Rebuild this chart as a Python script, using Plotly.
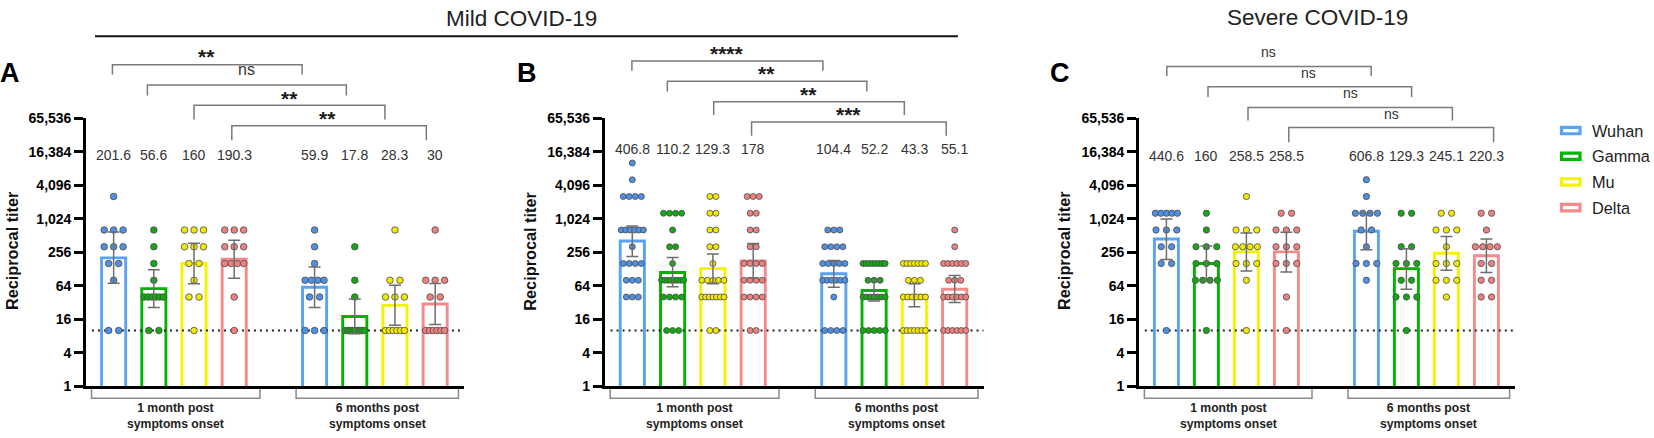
import numpy as np
import plotly.graph_objects as go

W, H = 1654, 438
FONT = "Liberation Sans, Arial, sans-serif"

variants = ["Wuhan", "Gamma", "Mu", "Delta"]
bar_colors = ["#5aa2f2", "#00b400", "#f4f400", "#f58a8a"]
dot_colors = ["#4d90e4", "#14a814", "#f2e800", "#ee8080"]
group_labels = ["1 month post<br>symptoms onset", "6 months post<br>symptoms onset"]
headers = ["Mild COVID-19", "Severe COVID-19"]
panel_letters = ["A", "B", "C"]
ytick_vals = [1, 4, 16, 64, 256, 1024, 4096, 16384, 65536]
ytick_text = ["1", "4", "16", "64", "256", "1,024", "4,096", "16,384", "65,536"]
detection_limit = 10

# ---- panel A (mild), order Wuhan, Gamma, Mu, Delta
a_1m = [
    [2560, 640, 640, 640, 320, 320, 320, 160, 160, 80, 10, 10],
    [640, 320, 160, 80, 40, 40, 40, 40, 40, 40, 10, 10],
    [640, 640, 640, 320, 320, 320, 160, 160, 80, 40, 40, 10],
    [640, 640, 640, 320, 320, 320, 160, 160, 160, 160, 40, 10],
]
a_6m = [
    [640, 320, 160, 80, 80, 80, 80, 40, 40, 10, 10, 10],
    [320, 80, 40, 10, 10, 10, 10, 10, 10, 10, 10, 10],
    [640, 80, 80, 40, 40, 40, 10, 10, 10, 10, 10, 10],
    [640, 80, 80, 80, 40, 40, 10, 10, 10, 10, 10, 10],
]
a_gmt = [201.6, 56.6, 160, 190.3, 59.9, 17.8, 28.3, 30]
a_ci_low = [71, 26, 69, 87, 26, 8.7, 12.4, 12.8]
a_ci_high = [590, 124, 370, 420, 138, 37, 65, 70]
a_sig = ["**", "ns", "**", "**"]

# ---- panel B (mild)
b_1m = [
    [10240, 5120, 2560, 2560, 2560, 2560, 640, 640, 640, 640, 640, 640,
     320, 160, 160, 160, 160, 80, 80, 80, 40, 40, 40],
    [1280, 1280, 1280, 1280, 640, 320, 320, 160, 80, 80, 80, 80, 80, 80,
     80, 80, 40, 40, 40, 40, 10, 10, 10],
    [2560, 2560, 1280, 1280, 640, 640, 320, 320, 160, 80, 80, 80, 80, 80,
     40, 40, 40, 40, 40, 40, 40, 10, 10],
    [2560, 2560, 2560, 1280, 1280, 640, 640, 320, 320, 160, 160, 160, 160,
     80, 80, 80, 80, 40, 40, 40, 40, 10, 10],
]
b_6m = [
    [640, 640, 640, 320, 320, 320, 320, 160, 160, 160, 160, 160, 80, 80,
     80, 80, 80, 80, 40, 10, 10, 10, 10],
    [160, 160, 160, 160, 160, 160, 160, 160, 80, 80, 80, 40, 40, 40, 40,
     40, 40, 40, 10, 10, 10, 10, 10],
    [160, 160, 160, 160, 160, 160, 160, 80, 80, 80, 40, 40, 40, 40, 40,
     40, 10, 10, 10, 10, 10, 10, 10],
    [640, 320, 160, 160, 160, 160, 160, 160, 80, 80, 80, 40, 40, 40, 40,
     40, 40, 10, 10, 10, 10, 10, 10],
]
b_gmt = [406.8, 110.2, 129.3, 178, 104.4, 52.2, 43.3, 55.1]
b_ci_low = [214, 61, 69.5, 88, 60, 34, 26.7, 32]
b_ci_high = [755, 206, 238, 366, 182, 80, 69.5, 97]
b_sig = ["****", "**", "**", "***"]

# ---- panel C (severe)
c_1m = [
    [1280, 1280, 1280, 1280, 1280, 640, 640, 640, 320, 320, 160, 160, 10],
    [1280, 640, 320, 320, 320, 160, 160, 160, 80, 80, 80, 80, 10],
    [2560, 640, 640, 640, 320, 320, 320, 320, 160, 160, 160, 80, 10],
    [1280, 1280, 640, 640, 640, 320, 320, 320, 160, 160, 160, 40, 10],
]
c_6m = [
    [5120, 2560, 1280, 1280, 1280, 1280, 640, 640, 320, 160, 160, 160, 80],
    [1280, 1280, 320, 320, 160, 160, 160, 80, 80, 40, 40, 40, 10],
    [1280, 1280, 640, 640, 640, 320, 160, 160, 160, 80, 80, 80, 40],
    [1280, 1280, 640, 320, 320, 320, 320, 160, 160, 80, 80, 40, 40],
]
c_gmt = [440.6, 160, 258.5, 258.5, 606.8, 129.3, 245.1, 220.3]
c_ci_low = [189, 77, 117, 112, 284, 55, 121, 110]
c_ci_high = [1010, 330, 565, 585, 1290, 295, 488, 442]
c_sig = ["ns", "ns", "ns", "ns"]

# ---- layout geometry (pixels)
XR = [-0.68, 8.72]
slots = [0, 1, 2, 3, 5, 6, 7, 8]
dom_px = [(86.3, 464.1), (604.9, 983.7), (1139.2, 1515.2)]
Y_TOP, Y_BOT = 114.3, 392.5


def py(p):
    return 1 - p / H


def px(i, slot):
    d0, d1 = dom_px[i]
    return (d0 + (slot - XR[0]) / (XR[1] - XR[0]) * (d1 - d0)) / W


def swarm(values, center, smax, wmax):
    counts = {}
    for v in values:
        counts[v] = counts.get(v, 0) + 1
    seen = {}
    xs = []
    for v in values:
        n = counts[v]
        k = seen.get(v, 0)
        seen[v] = k + 1
        s = 0 if n == 1 else min(smax, wmax / (n - 1))
        xs.append(center + (k - (n - 1) / 2) * s)
    return xs


panels = [
    dict(d1=a_1m, d6=a_6m, gmt=a_gmt, lo=a_ci_low, hi=a_ci_high, sig=a_sig,
         size=6.6, smax=0.25, wmax=0.47, lab_y=152.2,
         br=[(-0.03, 4.69), (0.84, 5.79), (2.0, 6.75), (2.94, 7.78)],
         br_top=[59, 80, 101, 122.3], br_bot=[69, 90.7, 115.7, 137.3],
         sig_x=[2.32, 3.31, 4.37, 5.33], sig_y=[46.3, 65, 89, 110.5], ns_size=16),
    dict(d1=b_1m, d6=b_6m, gmt=b_gmt, lo=b_ci_low, hi=b_ci_high, sig=b_sig,
         size=6, smax=0.15, wmax=0.55, lab_y=146.8,
         br=[(-0.01, 4.73), (0.87, 5.82), (2.02, 6.75), (2.96, 7.79)],
         br_top=[55, 76, 97.3, 118.3], br_bot=[65, 86.7, 111, 132.7],
         sig_x=[2.34, 3.32, 4.38, 5.36], sig_y=[42.5, 64, 85, 106.5], ns_size=16),
    dict(d1=c_1m, d6=c_6m, gmt=c_gmt, lo=c_ci_low, hi=c_ci_high, sig=c_sig,
         size=6.3, smax=0.26, wmax=0.55, lab_y=153.3,
         br=[(0.01, 5.12), (1.04, 6.13), (2.04, 7.15), (3.06, 8.18)],
         br_top=[60.7, 81.7, 103.3, 124], br_bot=[70.7, 92.3, 116.7, 139.3],
         sig_x=[2.55, 3.56, 4.59, 5.62], sig_y=[47.3, 69, 90, 111], ns_size=14),
]

fig = go.Figure()
shapes = []
annotations = []

for i, p in enumerate(panels):
    sx = "" if i == 0 else str(i + 1)
    xa, ya = "x" + sx, "y" + sx

    # bars (geometric means)
    for v in range(4):
        fig.add_trace(go.Bar(
            x=[slots[v], slots[v + 4]], y=[p["gmt"][v], p["gmt"][v + 4]],
            width=0.6, xaxis=xa, yaxis=ya,
            marker=dict(color="white", line=dict(color=bar_colors[v], width=2.9)),
            hoverinfo="skip"))

    # limit of detection
    fig.add_trace(go.Scatter(
        x=[-0.54, XR[1]], y=[detection_limit, detection_limit], mode="lines",
        line=dict(color="#222", width=2, dash="2px,4px"),
        xaxis=xa, yaxis=ya, hoverinfo="skip"))

    # individual titers
    for v in range(4):
        xs = swarm(p["d1"][v], slots[v], p["smax"], p["wmax"]) + \
            swarm(p["d6"][v], slots[v + 4], p["smax"], p["wmax"])
        ys = p["d1"][v] + p["d6"][v]
        fig.add_trace(go.Scatter(
            x=xs, y=ys, mode="markers", xaxis=xa, yaxis=ya,
            marker=dict(size=p["size"], color=dot_colors[v],
                        line=dict(color="#4a4a4a", width=0.8)),
            name=variants[v]))

    # 95% CI error bars
    for v in range(4):
        g = [p["gmt"][v], p["gmt"][v + 4]]
        hi = [p["hi"][v], p["hi"][v + 4]]
        lo = [p["lo"][v], p["lo"][v + 4]]
        fig.add_trace(go.Scatter(
            x=[slots[v], slots[v + 4]], y=g, mode="markers", xaxis=xa, yaxis=ya,
            marker=dict(size=1, color="rgba(0,0,0,0)"),
            error_y=dict(type="data", symmetric=False,
                         array=[hi[k] - g[k] for k in range(2)],
                         arrayminus=[g[k] - lo[k] for k in range(2)],
                         color="#6e6e6e", thickness=1.5, width=6),
            hoverinfo="skip"))

    # GMT labels
    for k in range(8):
        annotations.append(dict(
            x=px(i, slots[k]), y=py(p["lab_y"]), xref="paper", yref="paper",
            text=f"{p['gmt'][k]:g}", showarrow=False, xanchor="center", yanchor="middle",
            font=dict(family=FONT, size=14, color="#333")))

    # significance brackets
    for k in range(4):
        x0, x1 = px(i, p["br"][k][0]), px(i, p["br"][k][1])
        yt, yb = py(p["br_top"][k]), py(p["br_bot"][k])
        shapes.append(dict(type="path", xref="paper", yref="paper",
                           path=f"M {x0},{yb} L {x0},{yt} L {x1},{yt} L {x1},{yb}",
                           line=dict(color="#7a7a7a", width=1.5)))
        lab = p["sig"][k]
        if "*" in lab:
            fs, yy, col = 21, p["sig_y"][k] + 4.5, "#1a1a1a"
        else:
            fs, yy, col = p["ns_size"], p["sig_y"][k] - 1.3, "#333"
        annotations.append(dict(
            x=px(i, p["sig_x"][k]), y=py(yy), xref="paper", yref="paper",
            text=lab, showarrow=False, xanchor="center", yanchor="middle",
            font=dict(family=FONT, size=fs, color=col,
                      weight="bold" if "*" in lab else "normal")))

    # time-point brackets below the axis
    for (s0, s1), lab in zip([(-0.55, 3.64), (4.54, 8.58)], group_labels):
        x0, x1 = px(i, s0), px(i, s1)
        yt, yb = py(395.3), py(405)
        shapes.append(dict(type="path", xref="paper", yref="paper",
                           path=f"M {x0},{yt} L {x0},{yb} L {x1},{yb} L {x1},{yt}",
                           line=dict(color="#8a8a8a", width=1.5)))
        annotations.append(dict(
            x=(x0 + x1) / 2, y=py(423.5), xref="paper", yref="paper",
            text=f"<b>{lab}</b>", showarrow=False, xanchor="center", yanchor="middle",
            font=dict(family=FONT, size=12.2, color="#222")))

    # axis title + panel letter
    annotations.append(dict(
        x=(dom_px[i][0] - 75) / W, y=py(252), xref="paper", yref="paper",
        text="<b>Reciprocal titer</b>", textangle=-90, showarrow=False,
        xanchor="center", yanchor="middle",
        font=dict(family=FONT, size=16.3, color="#111")))
    annotations.append(dict(
        x=[10.4, 527, 1060][i] / W, y=py(67.3), xref="paper", yref="paper",
        text=f"<b>{panel_letters[i]}</b>", showarrow=False,
        xanchor="center", yanchor="middle",
        font=dict(family=FONT, size=27, color="black")))

    fig.update_layout(**{
        "xaxis" + sx: dict(domain=[dom_px[i][0] / W, dom_px[i][1] / W], range=XR,
                           anchor=ya, showline=True, linecolor="black", linewidth=3.2,
                           ticks="", showticklabels=False, showgrid=False, zeroline=False),
        "yaxis" + sx: dict(domain=[py(Y_BOT), py(Y_TOP)], type="log",
                           range=[0, np.log10(65536)], anchor=xa,
                           tickmode="array", tickvals=ytick_vals, ticktext=ytick_text,
                           ticks="outside", ticklen=9, tickwidth=3, tickcolor="black",
                           showline=True, linecolor="black", linewidth=3.2,
                           tickfont=dict(family=FONT, size=14, color="black", weight="bold"),
                           showgrid=False, zeroline=False),
    })

# headers
annotations.append(dict(x=521.8 / W, y=py(10.5), xref="paper", yref="paper",
                        text=headers[0], showarrow=False, xanchor="center", yanchor="middle",
                        font=dict(family=FONT, size=22.5, color="#222")))
annotations.append(dict(x=1317.7 / W, y=py(9.5), xref="paper", yref="paper",
                        text=headers[1], showarrow=False, xanchor="center", yanchor="middle",
                        font=dict(family=FONT, size=22.5, color="#222")))
shapes.append(dict(type="line", xref="paper", yref="paper",
                   x0=95 / W, x1=957.9 / W, y0=py(29.3), y1=py(29.3),
                   line=dict(color="#111", width=2)))

# legend
for v in range(4):
    cy = 127.2 + v * 26.67
    shapes.append(dict(type="rect", xref="paper", yref="paper",
                       x0=1561.5 / W, x1=1580 / W, y0=py(cy - 3.3), y1=py(cy + 3.3),
                       fillcolor="white", line=dict(color=bar_colors[v], width=3.2)))
    annotations.append(dict(x=1590 / W, y=py(cy), xref="paper", yref="paper",
                            text=variants[v], showarrow=False, xanchor="left", yanchor="middle",
                            font=dict(family=FONT, size=16.3, color="#222")))

fig.update_layout(
    width=W, height=H, margin=dict(l=0, r=0, t=0, b=0),
    paper_bgcolor="white", plot_bgcolor="white",
    barmode="overlay", showlegend=False,
    shapes=shapes, annotations=annotations,
    font=dict(family=FONT),
)

# drop the page's default body margin so the figure sits at the window origin
fig.write_html("out.html", config={"displayModeBar": False},
               post_script="document.body.style.margin='0px';")
